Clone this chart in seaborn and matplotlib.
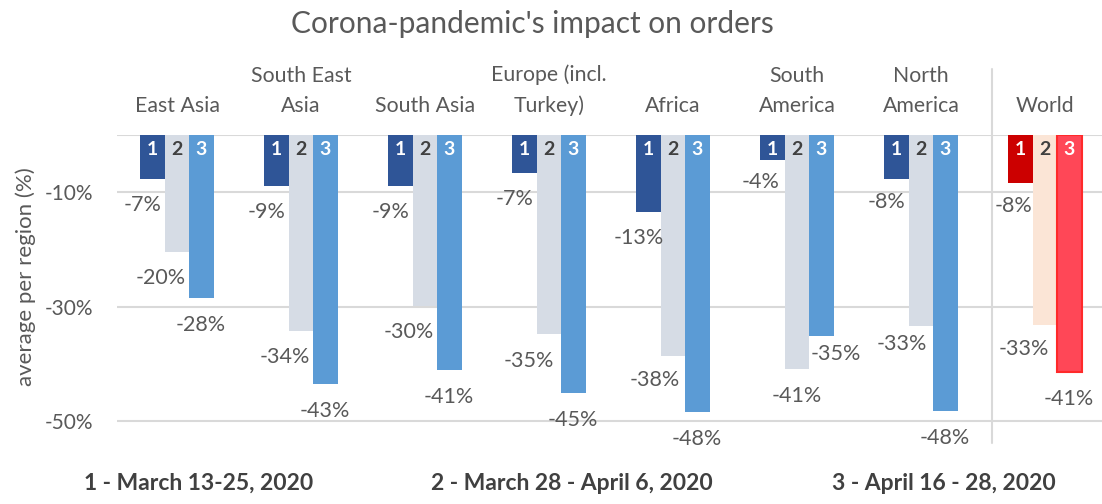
import matplotlib

matplotlib.use("Agg")
import matplotlib.pyplot as plt
import pandas as pd
import seaborn as sns

regions = [
    "East Asia",
    "South East\nAsia",
    "South Asia",
    "Europe (incl.\nTurkey)",
    "Africa",
    "South\nAmerica",
    "North\nAmerica",
    "World",
]
periods = ["1", "2", "3"]
period_names = [
    "1 - March 13-25, 2020",
    "2 - March 28 - April 6, 2020",
    "3 - April 16 - 28, 2020",
]

# bar lengths (%)
period1 = [-7.6, -8.9, -8.9, -6.7, -13.4, -4.3, -7.6, -8.3]
period2 = [-20.4, -34.3, -29.9, -34.7, -38.6, -40.8, -33.3, -33.1]
period3 = [-28.4, -43.5, -41.0, -45.0, -48.4, -35.1, -48.2, -41.4]

# labels as printed on the chart
labels1 = ["-7%", "-9%", "-9%", "-7%", "-13%", "-4%", "-8%", "-8%"]
labels2 = ["-20%", "-34%", "-30%", "-35%", "-38%", "-41%", "-33%", "-33%"]
labels3 = ["-28%", "-43%", "-41%", "-45%", "-48%", "-35%", "-48%", "-41%"]

region_colors = ["#2F5597", "#D6DCE5", "#5B9BD5"]
world_colors = ["#CC0000", "#FBE5D6", "#FF4757"]
grey = "#595959"
dark = "#404040"
grid_color = "#D9D9D9"

df = pd.DataFrame(
    {
        "region": regions * 3,
        "period": [p for p in periods for _ in regions],
        "value": period1 + period2 + period3,
    }
)

sns.set_style("white")
plt.rcParams["font.family"] = ["Lato", "DejaVu Sans"]

fig = plt.figure(figsize=(11.02, 5.04), dpi=100)
ax = fig.add_axes([0.1062, 0.121, 0.8938, 0.611])

sns.barplot(
    data=df,
    x="region",
    y="value",
    hue="period",
    palette=region_colors,
    width=0.59,
    gap=0,
    saturation=1,
    errorbar=None,
    legend=False,
    linewidth=0,
    ax=ax,
)

# world group gets its own colours
for k, cont in enumerate(ax.containers):
    cont.patches[7].set_facecolor(world_colors[k])
world3 = ax.containers[2].patches[7]
world3.set_edgecolor("#FF2A2A")
world3.set_linewidth(1.5)

ax.set_xlim(-0.484, 7.46)
ax.set_ylim(-53.8, 0)
ax.set_yticks([-50, -30, -10])
ax.set_yticklabels(["-50%", "-30%", "-10%"], fontsize=15, color=grey)
ax.tick_params(axis="y", length=0, pad=17)
ax.set_xticks([])
ax.set_xlabel("")
ax.set_ylabel("")
ax.yaxis.grid(True, color=grid_color, linewidth=1.5)
ax.set_axisbelow(True)
ax.axhline(0, color=grid_color, linewidth=1.5, zorder=0.5)
sns.despine(ax=ax, left=True, bottom=True)

# separator before World
ax.axvline(6.57, ymin=0, ymax=1.214, color=grid_color, linewidth=1.5, clip_on=False)

# category labels above the bars
for i, name in enumerate(regions):
    ax.text(
        i, 1.062, name, transform=ax.get_xaxis_transform(),
        ha="center", va="bottom", fontsize=15.3, color=grey,
        linespacing=1.65, multialignment="center",
    )

# value labels (offsets in pixels relative to bar end)
all_labels = [labels1, labels2, labels3]
default_offsets = [(-10, 26), (-16, 26), (-1, 27)]
special_offsets = {
    (1, 3): (-20, 27),
    (1, 4): (-18, 24),
    (0, 5): (-12, 22),
    (1, 5): (0, 27),
    (2, 5): (14, 18),
    (0, 6): (-10, 23),
    (1, 6): (-19, 18),
    (0, 7): (-7, 23),
    (1, 7): (-21, 24),
}
for k, cont in enumerate(ax.containers):
    for i, bar in enumerate(cont.patches):
        xc = bar.get_x() + bar.get_width() / 2
        val = bar.get_height()
        dx, dy = special_offsets.get((k, i), default_offsets[k])
        ax.annotate(
            all_labels[k][i], xy=(xc, val), xytext=(dx, -dy),
            textcoords="offset pixels", ha="center", va="center",
            fontsize=15.5, color=grey, annotation_clip=False,
        )
        ax.annotate(
            periods[k], xy=(xc, 0), xytext=(0, -14),
            textcoords="offset pixels", ha="center", va="center",
            fontsize=14, fontweight="bold",
            color=dark if k == 1 else "white",
        )

fig.text(0.483, 0.9345, "Corona-pandemic's impact on orders",
         ha="center", va="baseline", fontsize=21.5, color=grey)
fig.text(26 / 1102, 1 - 277 / 504, "average per region (%)", rotation=90,
         ha="center", va="center", fontsize=16, color=grey)

for name, xc in zip(period_names, [199, 572, 944]):
    fig.text(xc / 1102, 1 - 490 / 504, name, ha="center", va="baseline",
             fontsize=16.5, fontweight="bold", color=dark)

fig.savefig("out.png", dpi=100)
